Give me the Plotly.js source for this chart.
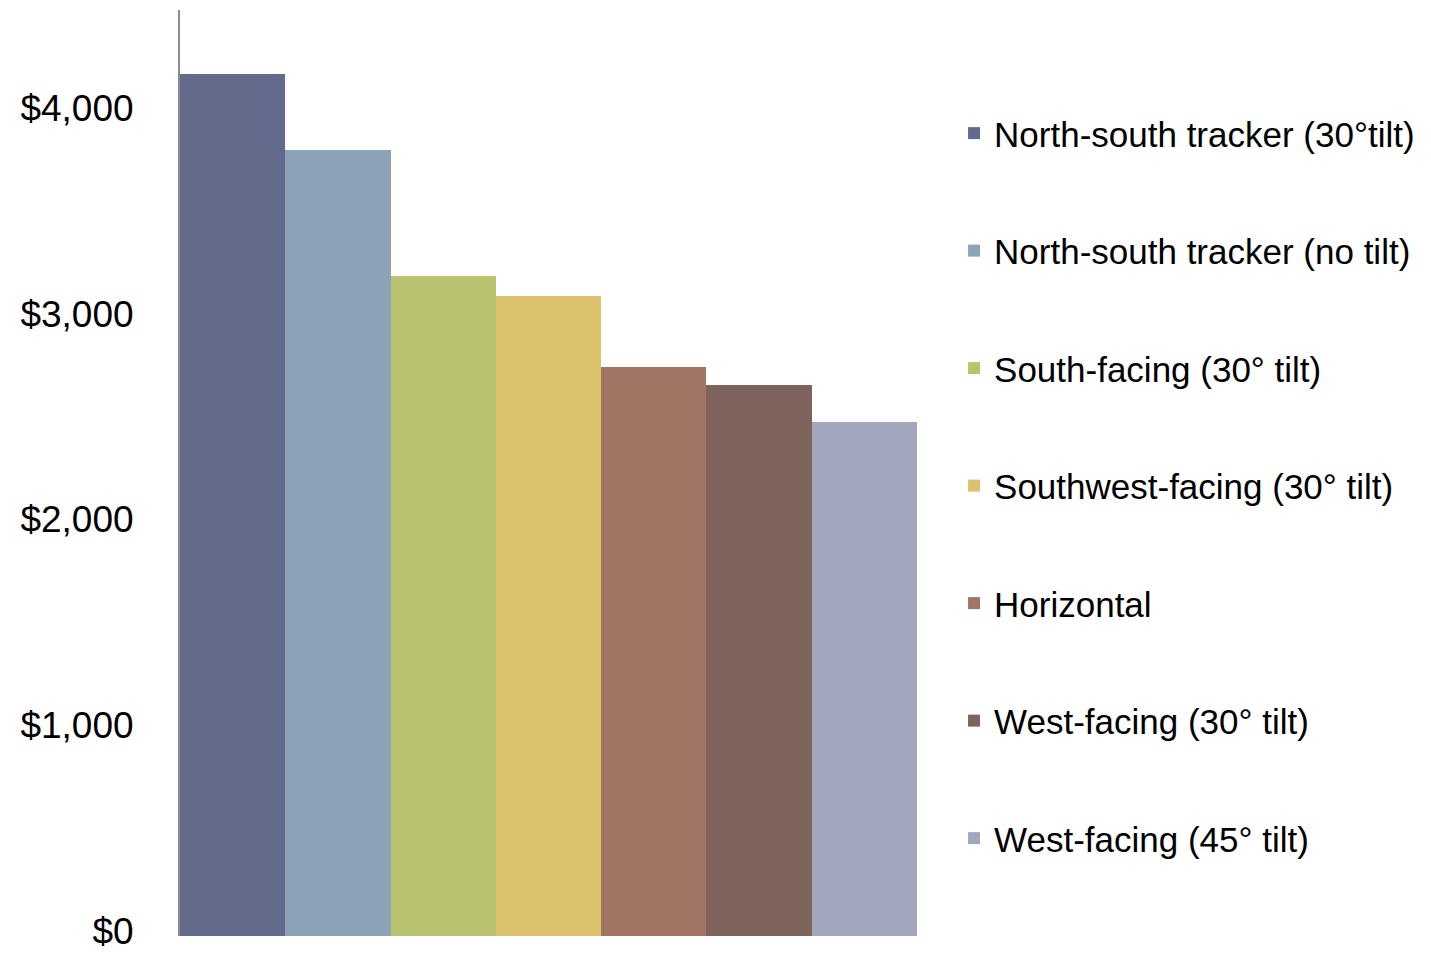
<!DOCTYPE html>
<html>
<head>
<meta charset="utf-8">
<script src="https://cdn.plot.ly/plotly-3.0.1.min.js"></script>
<style>html,body{margin:0;padding:0;background:#fff;}#chart{width:1431px;height:953px;}</style>
</head>
<body>
<div id="chart"></div>
<script>
const categories = [
  "North-south tracker (30°tilt)",
  "North-south tracker (no tilt)",
  "South-facing (30° tilt)",
  "Southwest-facing (30° tilt)",
  "Horizontal",
  "West-facing (30° tilt)",
  "West-facing (45° tilt)"
];
const values = [4190, 3820, 3207, 3110, 2765, 2678, 2498];
const colors = ["#636B8D", "#8CA3B7", "#B9C26C", "#DCC26C", "#A27463", "#7E645C", "#A2A7BD"];
const tickValues = [0, 1000, 2000, 3000, 4000];
const tickLabels = ["$0", "$1,000", "$2,000", "$3,000", "$4,000"];

const traces = categories.map((name, i) => ({
  type: "bar",
  name: name,
  x: [name],
  y: [values[i]],
  legendgroup: "g" + i,
  marker: {color: colors[i], line: {width: 0}},
  hoverinfo: "name+y"
}));

const layout = {
  width: 1431,
  height: 953,
  margin: {l: 180, r: 514, t: 10, b: 17, pad: 0},
  paper_bgcolor: "#ffffff",
  plot_bgcolor: "#ffffff",
  font: {family: "Liberation Sans, Arial, sans-serif", color: "#000000", size: 35},
  barmode: "overlay",
  bargap: 0,
  showlegend: true,
  legend: {
    xref: "container", yref: "container",
    x: 0.6667, y: 0.891, xanchor: "left", yanchor: "top",
    font: {size: 35, color: "#000000"},
    tracegroupgap: 69,
    maxheight: 2000,
    bgcolor: "rgba(0,0,0,0)",
    borderwidth: 0
  },
  xaxis: {
    type: "category",
    categoryorder: "array",
    categoryarray: categories,
    showticklabels: false,
    showgrid: false,
    zeroline: false,
    showline: false,
    ticks: ""
  },
  yaxis: {
    range: [0, 4500],
    tickvals: tickValues,
    ticktext: tickLabels,
    tickfont: {size: 37, color: "#000000"},
    ticklabeloverflow: "allow",
    ticklabelshift: -5,
    showgrid: false,
    zeroline: false,
    showline: true,
    linecolor: "#8C8C8C",
    linewidth: 2,
    ticks: "",
    ticklabelstandoff: 37
  }
};

Plotly.newPlot("chart", traces, layout, {displayModeBar: false});
</script>
</body>
</html>
